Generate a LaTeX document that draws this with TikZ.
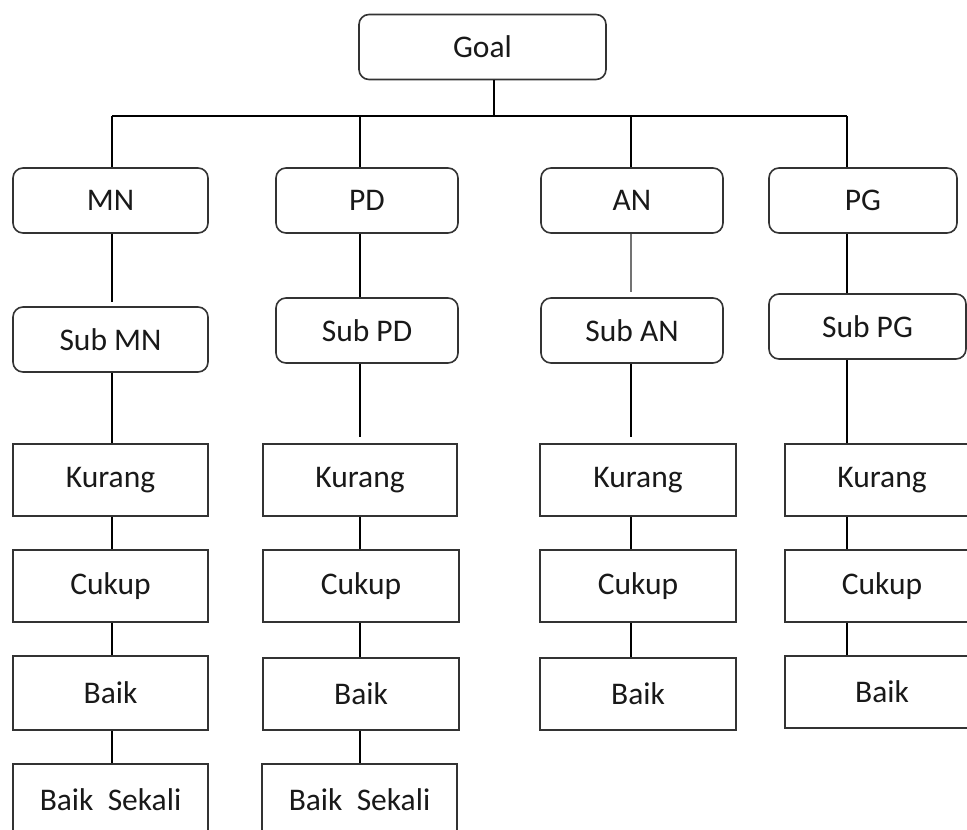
\documentclass[tikz,border=0pt]{standalone}
\usepackage{fontspec}
\setmainfont{Carlito}
\begin{document}
\begin{tikzpicture}[x=1pt,y=-1pt,
  base/.style={draw=black!80,line width=1.6pt,inner sep=0pt,font=\fontsize{31.5}{36}\selectfont,text=black!90},
  rbox/.style={base,rounded corners=10pt,minimum height=65pt},
  sbox/.style={base,minimum height=72pt},
  link/.style={line width=1.4pt,black}]
\useasboundingbox (0,0) rectangle (967,830);
% level nodes
\node[rbox,minimum width=247pt] (goal) at (482.5,47) {Goal};
\node[rbox,minimum width=195pt] (MN) at (110.5,200.5) {MN};
\node[rbox,minimum width=182pt] (PD) at (367,200.5) {PD};
\node[rbox,minimum width=182pt] (AN) at (632,200.5) {AN};
\node[rbox,minimum width=188pt] (PG) at (863,200.5) {PG};
\node[rbox,minimum width=195pt] (sMN) at (110.5,339.5) {Sub MN};
\node[rbox,minimum width=182pt] (sPD) at (367,330.5) {Sub PD};
\node[rbox,minimum width=182pt] (sAN) at (632,330.5) {Sub AN};
\node[rbox,minimum width=197pt] (sPG) at (867.5,326.5) {Sub PG};
% MN column
\node[sbox,minimum width=195pt] (kMN) at (110.5,480) {Kurang};
\node[sbox,minimum width=195pt] (cMN) at (110.5,586) {Cukup};
\node[sbox,minimum width=195pt,minimum height=74pt] (bMN) at (110.5,693) {Baik};
\node[sbox,minimum width=195pt] (bsMN) at (110.5,800) {Baik\ \ Sekali};
% PD column
\node[sbox,minimum width=194pt] (kPD) at (360,480) {Kurang};
\node[sbox,minimum width=196pt] (cPD) at (361,586) {Cukup};
\node[sbox,minimum width=196pt] (bPD) at (361,694) {Baik};
\node[sbox,minimum width=195pt] (bsPD) at (359.5,800) {Baik\ \ Sekali};
% AN column
\node[sbox,minimum width=196pt] (kAN) at (638,480) {Kurang};
\node[sbox,minimum width=196pt] (cAN) at (638,586) {Cukup};
\node[sbox,minimum width=196pt] (bAN) at (638,694) {Baik};
% PG column
\node[sbox,minimum width=194pt] (kPG) at (882,480) {Kurang};
\node[sbox,minimum width=194pt] (cPG) at (882,586) {Cukup};
\node[sbox,minimum width=194pt] (bPG) at (882,692) {Baik};
% junction coordinates
\coordinate (j0) at (494,116);
\coordinate (j1) at (112,116);
\coordinate (j2) at (360,116);
\coordinate (j3) at (631,116);
\coordinate (j4) at (847,116);
% tree connectors
\draw[link] (goal.south -| j0) -- (j0);
\draw[link] (j1) -- (j4);
\draw[link] (j1) -- (j1 |- MN.north);
\draw[link] (j2) -- (j2 |- PD.north);
\draw[link] (j3) -- (j3 |- AN.north);
\draw[link] (j4) -- (j4 |- PG.north);
% MN column links
\draw[link,shorten >=4pt] (MN.south -| j1) -- (sMN.north -| j1);
\draw[link] (sMN.south -| j1) -- (kMN.north -| j1);
\draw[link] (kMN.south -| j1) -- (cMN.north -| j1);
\draw[link] (cMN.south -| j1) -- (bMN.north -| j1);
\draw[link] (bMN.south -| j1) -- (bsMN.north -| j1);
% PD column links
\draw[link] (PD.south -| j2) -- (sPD.north -| j2);
\draw[link,shorten >=6pt] (sPD.south -| j2) -- (kPD.north -| j2);
\draw[link] (kPD.south -| j2) -- (cPD.north -| j2);
\draw[link] (cPD.south -| j2) -- (bPD.north -| j2);
\draw[link] (bPD.south -| j2) -- (bsPD.north -| j2);
% AN column links
\draw[link,black!55,shorten >=5pt] (AN.south -| j3) -- (sAN.north -| j3);
\draw[link,shorten >=6pt] (sAN.south -| j3) -- (kAN.north -| j3);
\draw[link] (kAN.south -| j3) -- (cAN.north -| j3);
\draw[link] (cAN.south -| j3) -- (bAN.north -| j3);
% PG column links
\draw[link] (PG.south -| j4) -- (sPG.north -| j4);
\draw[link] (sPG.south -| j4) -- (kPG.north -| j4);
\draw[link] (kPG.south -| j4) -- (cPG.north -| j4);
\draw[link] (cPG.south -| j4) -- (bPG.north -| j4);
\end{tikzpicture}
\end{document}
